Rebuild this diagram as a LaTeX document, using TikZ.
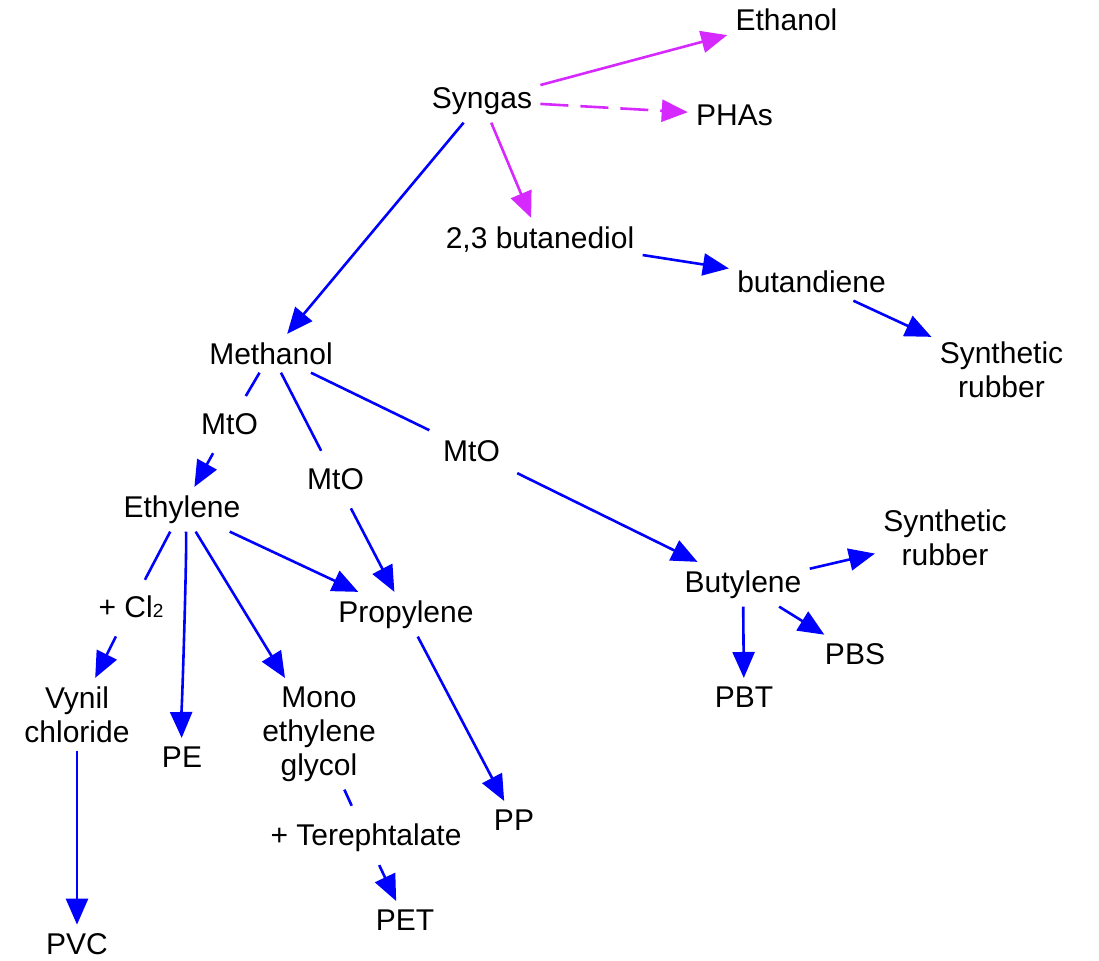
\documentclass[tikz,border=0pt]{standalone}
\usepackage{fontspec}
\setmainfont{Liberation Sans}
\usetikzlibrary{arrows.meta}
\definecolor{gaspink}{RGB}{214,41,255}

\begin{document}
\begin{tikzpicture}[x=0.5pt,y=-0.5pt,->,>={Triangle[length=13pt,width=11pt]},
  chem/.style={anchor=base,inner sep=4pt,align=center,font=\fontsize{15}{17}\selectfont},
  every edge/.style={draw=blue,line width=1.3pt},
  gas/.style={draw=gaspink}]
  \useasboundingbox (0,0) rectangle (1099,960);

  \node[chem] (Et)   at (786.5,30)  {Ethanol};
  \node[chem] (Sg)   at (482,108)   {Syngas};
  \node[chem] (Ph)   at (734.5,125) {PHAs};
  \node[chem] (Bd)   at (540,248)   {2,3 butanediol};
  \node[chem] (Bn)   at (811.5,292) {butandiene};
  \node[chem] (Sr1)  at (1001.5,397) {Synthetic\\rubber};
  \node[chem] (Me)   at (271,364)   {Methanol};
  \node[chem] (M1)   at (229.5,434) {MtO};
  \node[chem] (M2)   at (335.5,489) {MtO};
  \node[chem] (M3)   at (471.5,461) {MtO};
  \node[chem] (Ey)   at (182,517)   {Ethylene};
  \node[chem] (Cl)   at (131,617)   {+ Cl{\fontsize{9.5}{10}\selectfont 2}};
  \node[chem] (Py)   at (406,622)   {Propylene};
  \node[chem] (By)   at (743,592)   {Butylene};
  \node[chem] (Sr2)  at (945,565)   {Synthetic\\rubber};
  \node[chem] (Pbs)  at (855,664)   {PBS};
  \node[chem] (Pbt)  at (744,707)   {PBT};
  \node[chem] (Vc)   at (77,742)    {Vynil\\chloride};
  \node[chem] (Pe)   at (182,767)   {PE};
  \node[chem] (Meg)  at (319,775)   {Mono\\ethylene\\glycol};
  \node[chem] (Pp)   at (514,830)   {PP};
  \node[chem] (Tp)   at (366,845)   {+ Terephtalate};
  \node[chem] (Pet)  at (405,930)   {PET};
  \node[chem] (Pvc)  at (77,954)    {PVC};

  % syngas routes
  \path (Sg)  edge [gas]                                  (Et)
              edge [gas,dash pattern=on 14pt off 6pt]     (Ph)
              edge [gas]                                  (Bd)
              edge                                        (Me)
        (Bd)  edge                                        (Bn)
        (Bn)  edge                                        (Sr1);
  % methanol to olefins
  \path (Me)  edge [-,shorten >=5pt]                      (M1)
              edge [-,shorten >=5pt]                      (M2)
              edge [-,shorten >=3pt]                      (M3)
        (M1)  edge [shorten <=6pt]                        (Ey)
        (M2)  edge [shorten <=6pt]                        (Py)
        (M3)  edge [shorten <=5pt]                        (By);
  % polymers
  \path (Ey)  edge [-,shorten >=4pt]                      (Cl)
              edge [out=-80,in=91,looseness=0.1]          (Pe)
              edge                                        (Meg)
              edge                                        (Py)
        (Cl)  edge [shorten <=6pt]                        (Vc)
        (Vc)  edge                                        (Pvc)
        (Meg) edge [-,shorten >=5pt]                      (Tp)
        (Tp)  edge [shorten <=3pt]                        (Pet)
        (Py)  edge                                        (Pp)
        (By)  edge                                        (Sr2)
              edge                                        (Pbt)
              edge                                        (Pbs);
\end{tikzpicture}
\end{document}
